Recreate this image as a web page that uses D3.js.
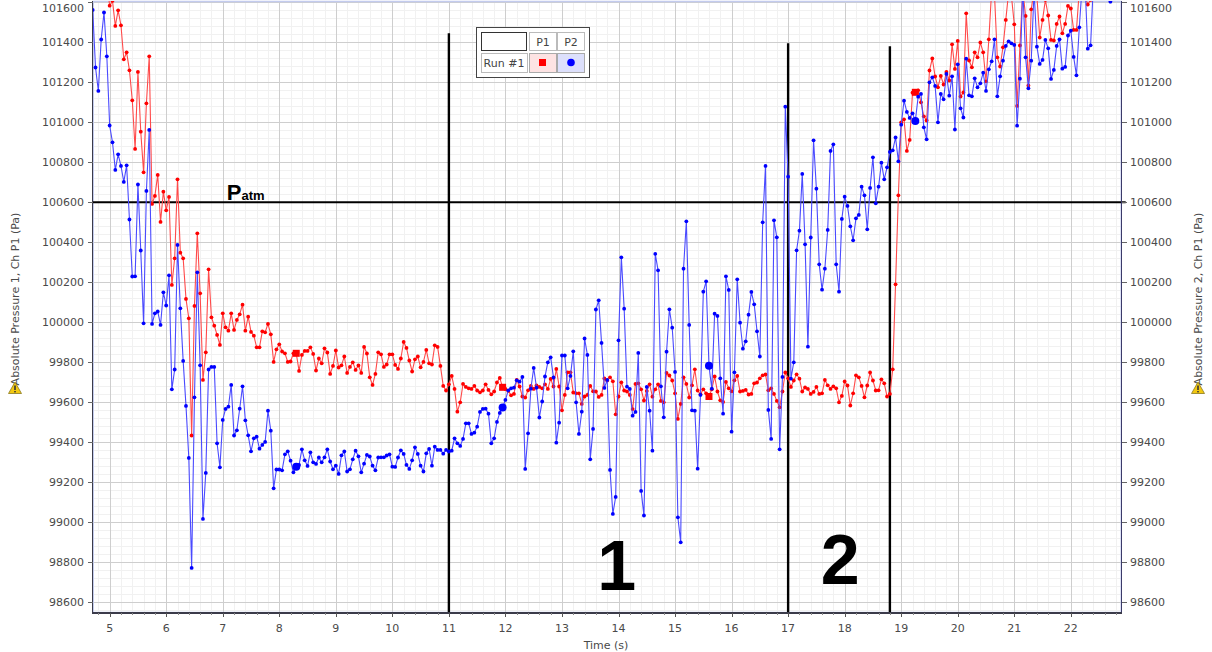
<!DOCTYPE html>
<html><head><meta charset="utf-8">
<script src="https://cdn.jsdelivr.net/npm/d3@7/dist/d3.min.js"></script>
<style>
body{margin:0;background:#fff;}
svg{display:block;font-family:"DejaVu Sans",sans-serif;}
</style>
</head><body>
<svg id="chart" width="1212" height="652"></svg>
<script>
// Logged at 20 Hz (one sample every 0.05 s)
const sampleStep = 0.05;

// Absolute Pressure 1, Ch P1 (Pa) - first logged sample at t = 4.95 s
const p1StartTime = 4.95;
const p1Values = [
101700,101583,101607,101482,101560,101485,101315,101350,101260,101110,
100867,101252,100953,100750,101095,101330,100592,100632,100737,100502,
100653,100560,100627,100187,100320,100715,100348,100320,100117,100020,
99434,100082,100445,100145,99712,99850,100265,100025,99983,99937,
99887,100045,99975,99958,100045,99962,100012,100040,100088,99958,
100028,99952,99933,99875,99875,99955,99950,99992,99940,99802,
99865,99890,99854,99845,99802,99804,99845,99845,99757,99837,
99857,99857,99875,99842,99759,99819,99795,99870,99849,99742,
99782,99859,99774,99785,99829,99747,99777,99800,99762,99784,
99747,99877,99844,99725,99687,99742,99850,99840,99777,99789,
99840,99840,99787,99767,99819,99902,99872,99809,99754,99815,
99829,99775,99802,99862,99795,99789,99885,99877,99782,99682,
99659,99690,99732,99667,99553,99600,99692,99677,99670,99667,
99682,99659,99650,99659,99690,99662,99640,99654,99699,99722,
99675,99667,99657,99635,99642,99712,99679,99629,99624,99660,
99682,99667,99684,99677,99670,99690,99667,99717,99679,99767,
99679,99560,99637,99750,99750,99649,99645,99645,99592,99629,
99637,99682,99655,99654,99627,99637,99719,99709,99725,99705,
99540,99629,99700,99659,99654,99637,99566,99692,99695,99665,
99609,99657,99690,99628,99665,99690,99607,99600,99747,99734,
99709,99645,99517,99592,99725,99692,99624,99685,99765,99659,
99640,99665,99645,99629,99665,99729,99654,99610,99602,99702,
99670,99655,99710,99732,99654,99657,99662,99639,99642,99695,
99699,99720,99735,99739,99660,99670,99642,99607,99575,99654,
99749,99720,99677,99709,99740,99718,99654,99674,99667,99642,
99652,99677,99642,99645,99712,99685,99667,99680,99670,99600,
99632,99704,99684,99584,99645,99735,99725,99682,99625,99684,
99749,99709,99659,99660,99715,99695,99629,99642,99765,100190,
100635,101000,101015,100857,100912,101148,101150,101160,101100,101030,
101009,101259,101319,101229,101175,101232,101189,101252,101209,101390,
101267,101407,101129,101149,101545,101309,101275,101350,101325,101399,
101350,101205,101415,101660,101640,101325,101279,101375,101512,101650,
101630,101490,101082,101384,101660,101532,101184,101565,101660,101630,
101424,101512,101612,101534,101412,101409,101492,101529,101445,101492,
101582,101569,101462,101462,101660,101650,101630,101589,101612,101680,
101700,101690,101710,101700,101690,101720,101700,101690,101710
];

// Absolute Pressure 2, Ch P1 (Pa) - first logged sample at t = 4.70 s
const p2StartTime = 4.70;
const p2Values = [
101562,101274,101157,101414,101549,101330,100984,100900,100762,100840,
100782,100702,100785,100514,100229,100230,100689,100359,99995,100657,
100962,99992,100045,100054,99987,100150,100084,100235,99665,99764,
100387,100070,99807,99582,99322,98772,99625,100250,99785,99017,
99247,99764,99777,99777,99395,99275,99512,99567,99578,99687,
99434,99460,99568,99680,99510,99435,99355,99420,99428,99368,
99387,99402,99558,99458,99170,99264,99264,99260,99340,99355,
99308,99250,99278,99287,99365,99310,99282,99350,99300,99292,
99324,99300,99325,99365,99304,99265,99283,99242,99335,99354,
99254,99265,99315,99358,99330,99250,99293,99337,99329,99283,
99260,99324,99325,99325,99334,99340,99278,99277,99324,99360,
99342,99287,99267,99310,99375,99342,99283,99254,99345,99367,
99283,99378,99362,99362,99343,99362,99354,99358,99420,99395,
99382,99417,99495,99495,99442,99448,99478,99552,99567,99568,
99543,99395,99420,99502,99547,99574,99612,99660,99670,99673,
99710,99703,99727,99267,99445,99668,99772,99673,99524,99604,
99729,99800,99825,99724,99398,99498,99834,99834,99670,99732,
99855,99600,99442,99553,99919,99837,99315,99467,100064,100110,
99897,99672,99712,99262,99042,99127,99910,100325,100068,99678,
99667,99533,99552,99847,99157,99034,99677,99558,99358,100342,
100260,99680,99525,99853,100065,99973,99752,99025,98900,100268,
100505,99987,99560,99558,99268,99637,100153,100205,99783,99668,
100043,100032,99720,99543,100230,100162,99453,99750,100215,99998,
99868,99905,100038,100152,100090,99955,99829,100500,100782,99562,
99417,100510,100425,99365,99727,101078,100728,99718,99800,100360,
100458,100742,100390,99878,100424,100910,100668,100290,100163,100268,
100462,100857,100890,100290,100153,100517,100628,100582,100480,100410,
100520,100537,100678,100635,100465,100672,100825,100595,100678,100798,
100715,100775,100852,100860,100924,100805,100988,101108,101052,101022,
101045,101007,101128,101142,100975,100915,101200,101225,101182,101000,
101142,101115,101242,101133,101230,100964,101290,101070,101024,101318,
101135,101130,101220,101175,101195,101248,101157,101265,101305,101415,
101130,101230,101308,101382,101405,101395,101387,100983,101218,101680,
101325,101170,101308,101660,101378,101292,101312,101412,101370,101217,
101262,101382,101415,101268,101277,101434,101458,101327,101235,101475,
101680,101700,101368,101385,101700,101720,101690,101710,101680,101650,
101603,101660,101690,101700
];

// Samples shown with the large series symbol (s)
const markerTimes = [8.30, 11.95, 15.60, 19.25];

// Phase boundaries (s) and the pressure where each line starts (Pa)
const phaseTimes = [11.0, 17.0, 18.8];
const phaseTops = [101445, 101395, 101380];
const phaseLabels = ["1", "2"];
const phaseLabelTimes = [13.97, 17.92];

// Atmospheric pressure reference (Pa)
const pAtm = 100600;

// Axis ticks
const timeTicks = d3.range(5, 23, 1);
const pressureTicks = d3.range(98600, 101601, 200);

const svg = d3.select("#chart");
const plot = {left: 92.7, right: 1121.7, top: 1, bottom: 613};

const x = d3.scaleLinear().domain([4.70, 22.90]).range([plot.left, plot.right]);
const y = d3.scaleLinear().domain([98546.5, 101606.5]).range([plot.bottom, plot.top]);

const toPoints = (vals, t0) => vals.map((v, i) => ({t: +(t0 + i * sampleStep).toFixed(2), v}));
const p1 = toPoints(p1Values, p1StartTime);
const p2 = toPoints(p2Values, p2StartTime);

svg.append("defs").append("clipPath").attr("id", "plotClip")
  .append("rect").attr("x", plot.left).attr("y", plot.top)
  .attr("width", plot.right - plot.left).attr("height", plot.bottom - plot.top);

// plot background
svg.append("rect").attr("x", plot.left).attr("y", plot.top)
  .attr("width", plot.right - plot.left).attr("height", plot.bottom - plot.top)
  .attr("fill", "#ffffff");

// minor grid
const grid = svg.append("g").attr("shape-rendering", "crispEdges");
const minorT = d3.range(4.8, 22.9, 0.2).filter(t => Math.abs(t - Math.round(t)) > 0.01);
const minorP = d3.range(98560, 101606, 40).filter(p => p % 200 !== 0);
grid.selectAll(".mx").data(minorT).join("line")
  .attr("x1", d => Math.round(x(d)) + 0.5).attr("x2", d => Math.round(x(d)) + 0.5)
  .attr("y1", plot.top).attr("y2", plot.bottom).attr("stroke", "#f1f1f1");
grid.selectAll(".my").data(minorP).join("line")
  .attr("y1", d => Math.round(y(d)) + 0.5).attr("y2", d => Math.round(y(d)) + 0.5)
  .attr("x1", plot.left).attr("x2", plot.right).attr("stroke", "#f1f1f1");
// major grid
grid.selectAll(".Mx").data(timeTicks).join("line")
  .attr("x1", d => Math.round(x(d)) + 0.5).attr("x2", d => Math.round(x(d)) + 0.5)
  .attr("y1", plot.top).attr("y2", plot.bottom).attr("stroke", "#cecece");
grid.selectAll(".My").data(pressureTicks).join("line")
  .attr("y1", d => Math.round(y(d)) + 0.5).attr("y2", d => Math.round(y(d)) + 0.5)
  .attr("x1", plot.left).attr("x2", plot.right).attr("stroke", "#cecece");

// plot frame
svg.append("rect").attr("x", plot.left + 0.5).attr("y", plot.top + 0.5)
  .attr("width", plot.right - plot.left - 1).attr("height", plot.bottom - plot.top - 1)
  .attr("fill", "none").attr("stroke", "#c3cbee").attr("stroke-width", 1.5);

// annotations: atmospheric pressure and phase boundaries
const ann = svg.append("g");
ann.append("line").attr("x1", plot.left).attr("x2", plot.right + 4)
  .attr("y1", y(pAtm)).attr("y2", y(pAtm)).attr("stroke", "#000").attr("stroke-width", 2);
ann.selectAll(".phase").data(phaseTimes).join("line")
  .attr("x1", d => x(d)).attr("x2", d => x(d))
  .attr("y1", (d, i) => y(phaseTops[i])).attr("y2", plot.bottom)
  .attr("stroke", "#000").attr("stroke-width", 2.4);

// series
const series = svg.append("g").attr("clip-path", "url(#plotClip)");
const line = d3.line().x(d => x(d.t)).y(d => y(d.v));
function drawSeries(data, lineColor, dotColor, bigShape) {
  series.append("path").datum(data).attr("d", line)
    .attr("fill", "none").attr("stroke", lineColor).attr("stroke-width", 1.1);
  series.append("g").selectAll("circle").data(data).join("circle")
    .attr("cx", d => x(d.t)).attr("cy", d => y(d.v)).attr("r", 1.9).attr("fill", dotColor);
  const big = data.filter(d => markerTimes.some(m => Math.abs(m - d.t) < 0.001));
  if (bigShape === "square") {
    series.append("g").selectAll("rect").data(big).join("rect")
      .attr("x", d => x(d.t) - 3.5).attr("y", d => y(d.v) - 3.5)
      .attr("width", 7).attr("height", 7).attr("fill", dotColor);
  } else {
    series.append("g").selectAll("circle").data(big).join("circle")
      .attr("cx", d => x(d.t)).attr("cy", d => y(d.v)).attr("r", 4).attr("fill", dotColor);
  }
}
drawSeries(p1, "#ff4a4a", "#ff0000", "square");
drawSeries(p2, "#4a4aff", "#0000ff", "circle");

// axis lines
const axes = svg.append("g").attr("shape-rendering", "crispEdges");
axes.append("line").attr("x1", plot.left).attr("x2", plot.left).attr("y1", plot.top).attr("y2", plot.bottom + 0.5).attr("stroke", "#3b3b4a").attr("stroke-width", 1.5);
axes.append("line").attr("x1", plot.right).attr("x2", plot.right).attr("y1", plot.top).attr("y2", plot.bottom + 0.5).attr("stroke", "#3b3b6a").attr("stroke-width", 1.5);
axes.append("line").attr("x1", plot.left).attr("x2", plot.right).attr("y1", plot.bottom).attr("y2", plot.bottom).attr("stroke", "#3b3b4a").attr("stroke-width", 1.5);

// x axis ticks & labels
const minorTicksX = d3.range(4.8, 22.9, 0.2);
axes.selectAll(".tmx").data(minorTicksX).join("line")
  .attr("x1", d => Math.round(x(d)) + 0.5).attr("x2", d => Math.round(x(d)) + 0.5)
  .attr("y1", plot.bottom).attr("y2", plot.bottom + 2).attr("stroke", "#888");
axes.selectAll(".tMx").data(timeTicks).join("line")
  .attr("x1", d => Math.round(x(d)) + 0.5).attr("x2", d => Math.round(x(d)) + 0.5)
  .attr("y1", plot.bottom).attr("y2", plot.bottom + 4).attr("stroke", "#555");
svg.append("g").selectAll("text").data(timeTicks).join("text")
  .attr("x", d => x(d)).attr("y", 632).attr("text-anchor", "middle")
  .attr("font-size", 11).attr("fill", "#4a4a4a").text(d => d);
svg.append("text").attr("x", 606).attr("y", 649).attr("text-anchor", "middle")
  .attr("font-size", 11).attr("fill", "#4a4a4a").text("Time (s)");

// y axis ticks & labels (both sides)
axes.selectAll(".tyl").data(pressureTicks).join("line")
  .attr("x1", plot.left - 5).attr("x2", plot.left)
  .attr("y1", d => Math.round(y(d)) + 0.5).attr("y2", d => Math.round(y(d)) + 0.5).attr("stroke", "#666");
axes.selectAll(".tyr").data(pressureTicks).join("line")
  .attr("x1", plot.right).attr("x2", plot.right + 5)
  .attr("y1", d => Math.round(y(d)) + 0.5).attr("y2", d => Math.round(y(d)) + 0.5).attr("stroke", "#666");
const labelY = d => Math.max(y(d) + 4, 12);
svg.append("g").selectAll("text").data(pressureTicks).join("text")
  .attr("x", 84).attr("y", labelY).attr("text-anchor", "end")
  .attr("font-size", 11).attr("fill", "#4a4a4a").text(d => d);
svg.append("g").selectAll("text").data(pressureTicks).join("text")
  .attr("x", 1130).attr("y", labelY).attr("text-anchor", "start")
  .attr("font-size", 11).attr("fill", "#4a4a4a").text(d => d);

// axis titles with warning glyph
function axisTitle(cx, label) {
  svg.append("text").attr("transform", `translate(${cx + 4},299) rotate(-90)`)
    .attr("text-anchor", "middle").attr("font-size", 11).attr("fill", "#4a4a4a").text(label);
  const g = svg.append("g").attr("transform", `translate(${cx},388)`);
  g.append("path").attr("d", "M0,-6 L6.5,5.5 L-6.5,5.5 Z").attr("fill", "#f2c811")
    .attr("stroke", "#8a7a20").attr("stroke-width", 0.8);
  g.append("rect").attr("x", -0.8).attr("y", -2.5).attr("width", 1.6).attr("height", 4.5).attr("fill", "#333");
  g.append("rect").attr("x", -0.8).attr("y", 3).attr("width", 1.6).attr("height", 1.4).attr("fill", "#333");
}
axisTitle(15, "Absolute Pressure 1, Ch P1 (Pa)");
axisTitle(1198, "Absolute Pressure 2, Ch P1 (Pa)");

// Patm label
const patm = svg.append("text").attr("x", x(7.0) + 4).attr("y", y(pAtm) - 2)
  .attr("font-family", "Liberation Sans, Arial, sans-serif").attr("font-weight", "bold").attr("fill", "#000");
patm.append("tspan").attr("font-size", 22).text("P");
patm.append("tspan").attr("font-size", 13).text("atm");

// phase labels
svg.append("g").selectAll("text").data(phaseLabels).join("text")
  .attr("x", (d, i) => x(phaseLabelTimes[i])).attr("y", (d, i) => [590, 584][i])
  .attr("text-anchor", "middle").attr("font-family", "Liberation Sans, Arial, sans-serif")
  .attr("font-weight", "bold").attr("font-size", 70).attr("fill", "#000").text(d => d);

// legend table
const lg = svg.append("g").attr("shape-rendering", "crispEdges");
lg.append("rect").attr("x", 476.5).attr("y", 27.5).attr("width", 113).attr("height", 50)
  .attr("fill", "#fff").attr("stroke", "#444").attr("stroke-width", 1);
const cell = (x0, y0, w, h, fill, stroke) => lg.append("rect").attr("x", x0 + 0.5).attr("y", y0 + 0.5)
  .attr("width", w).attr("height", h).attr("fill", fill).attr("stroke", stroke);
cell(481, 32, 45, 18, "#fff", "#333");
cell(529, 32, 27, 18, "#fff", "#bbb");
cell(557, 32, 27, 18, "#fff", "#bbb");
cell(481, 53, 46, 19, "#fff", "#bbb");
cell(529, 53, 27, 19, "#fde3e3", "#aaa");
cell(557, 53, 27, 19, "#dde0fc", "#aaa");
const lt = (tx, ty, s) => svg.append("text").attr("x", tx).attr("y", ty).attr("text-anchor", "middle")
  .attr("font-size", 11).attr("fill", "#444").text(s);
lt(543, 46, "P1");
lt(571, 46, "P2");
lt(504, 67, "Run #1");
svg.append("rect").attr("x", 539).attr("y", 59).attr("width", 7).attr("height", 7).attr("fill", "#ff0000");
svg.append("circle").attr("cx", 571).attr("cy", 62.5).attr("r", 3.8).attr("fill", "#0000ff");
</script>
</body></html>
